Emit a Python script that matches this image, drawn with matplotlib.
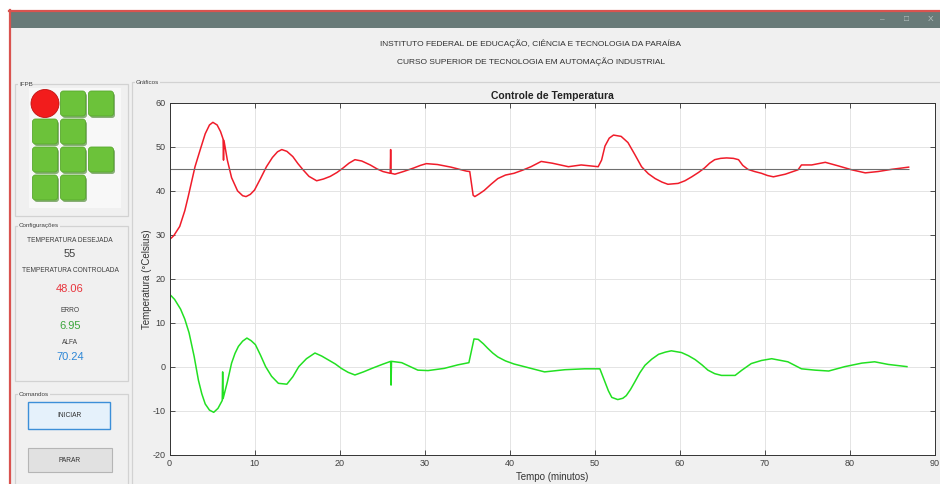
import numpy as np
import matplotlib.pyplot as plt
from matplotlib.patches import Rectangle, FancyBboxPatch, Circle

# Temperature (minutes, degrees C)
t_temp = [0.0, 0.5, 1.2, 1.8, 2.2, 3.0, 3.6, 4.2, 4.7, 5.1, 5.6, 6.0, 6.3, 6.35, 6.4, 6.8,
          7.3, 8.0, 8.6, 9.0, 9.5, 10.0, 10.7, 11.4, 12.1, 12.7, 13.2, 13.8, 14.5, 15.1,
          15.7, 16.4, 17.3, 18.1, 18.9, 19.7, 20.4, 21.1, 21.8, 22.6, 23.6, 24.4, 25.1,
          25.95, 26.0, 26.05, 26.5, 27.5, 28.7, 29.5, 30.2, 31.5, 33.1, 34.9, 35.3, 35.7,
          35.9, 36.4, 37.0, 37.8, 38.6, 39.5, 40.5, 41.5, 42.5, 43.7, 45.0, 46.9, 48.4,
          50.4, 50.8, 51.2, 51.7, 52.2, 53.1, 53.9, 54.7, 55.5, 56.3, 57.1, 57.9, 58.6,
          59.8, 60.6, 61.4, 62.2, 62.9, 63.5, 64.1, 64.8, 65.5, 66.3, 66.9, 67.4, 68.0,
          68.8, 69.6, 70.3, 71.0, 72.4, 73.9, 74.3, 75.5, 77.1, 78.6, 80.2, 81.8, 83.3,
          84.9, 86.9]
temperatura = [28.9, 29.8, 31.9, 35.5, 38.7, 45.5, 49.3, 53.0, 55.0, 55.6, 55.0, 53.5, 51.8,
               47.0, 51.5, 47.0, 43.0, 40.0, 38.9, 38.7, 39.2, 40.2, 42.8, 45.5, 47.6, 48.9,
               49.4, 49.0, 47.8, 46.2, 44.8, 43.3, 42.3, 42.7, 43.3, 44.2, 45.2, 46.3, 47.1,
               46.8, 45.9, 45.0, 44.4, 44.0, 49.4, 44.0, 43.8, 44.4, 45.2, 45.8, 46.2, 46.0,
               45.4, 44.5, 44.4, 39.0, 38.7, 39.3, 40.1, 41.5, 42.8, 43.6, 44.0, 44.7, 45.5,
               46.7, 46.3, 45.5, 45.9, 45.5, 47.0, 50.2, 52.0, 52.7, 52.4, 51.0, 48.3, 45.5,
               43.9, 42.8, 42.0, 41.5, 41.7, 42.3, 43.2, 44.2, 45.2, 46.3, 47.1, 47.4, 47.5,
               47.4, 47.1, 45.8, 44.9, 44.4, 44.0, 43.5, 43.2, 43.8, 44.8, 45.9, 45.9, 46.5,
               45.7, 44.8, 44.1, 44.4, 44.9, 45.4]

# Error
t_erro = [0.0, 0.6, 1.3, 1.8, 2.3, 2.9, 3.4, 3.8, 4.2, 4.7, 5.2, 5.7, 6.2, 6.25, 6.3, 6.8,
          7.3, 7.7, 8.1, 8.6, 9.1, 9.6, 10.1, 10.7, 11.3, 12.0, 12.8, 13.8, 14.5, 15.2,
          16.1, 17.1, 17.9, 18.7, 19.5, 20.2, 21.0, 21.8, 22.8, 23.8, 25.0, 26.0, 26.05,
          26.1, 27.3, 28.3, 29.2, 30.4, 32.3, 33.9, 35.2, 35.8, 36.3, 36.9, 37.4, 38.0,
          38.6, 39.5, 40.5, 42.5, 44.1, 46.5, 48.8, 50.6, 51.2, 51.6, 52.0, 52.7, 53.3,
          53.7, 54.2, 54.7, 55.3, 55.9, 56.7, 57.5, 58.3, 59.0, 60.2, 61.0, 61.8, 62.6,
          63.3, 64.1, 64.9, 66.5, 67.3, 68.4, 69.6, 70.8, 72.7, 74.3, 75.9, 77.5, 79.4,
          81.4, 82.9, 84.5, 86.7]
erro = [16.5, 15.3, 13.1, 10.8, 7.7, 2.3, -3.1, -6.2, -8.5, -9.9, -10.4, -9.5, -7.7, -1.2,
        -7.3, -3.5, 0.8, 3.0, 4.6, 5.8, 6.5, 5.9, 5.0, 2.6, 0.0, -2.2, -3.8, -4.0, -2.3, 0.0,
        1.8, 3.1, 2.4, 1.5, 0.6, -0.4, -1.3, -1.9, -1.2, -0.4, 0.5, 1.2, -4.2, 1.2, 0.9, 0.0,
        -0.8, -0.9, -0.4, 0.4, 0.9, 6.3, 6.2, 5.2, 4.2, 3.1, 2.2, 1.3, 0.6, -0.4, -1.2, -0.7,
        -0.5, -0.5, -3.5, -5.5, -7.0, -7.5, -7.2, -6.6, -5.2, -3.5, -1.4, 0.3, 1.7, 2.8, 3.3,
        3.6, 3.2, 2.5, 1.6, 0.4, -0.8, -1.6, -2.0, -2.0, -0.8, 0.7, 1.4, 1.8, 1.1, -0.5,
        -0.8, -1.0, 0.0, 0.8, 1.1, 0.5, 0.0]

setpoint = 45
x_ticks = np.arange(0, 91, 10)
y_ticks = np.arange(-20, 61, 10)

header = ["INSTITUTO FEDERAL DE EDUCAÇÃO, CIÊNCIA E TECNOLOGIA DA PARAÍBA",
          "CURSO SUPERIOR DE TECNOLOGIA EM AUTOMAÇÃO INDUSTRIAL"]
config_labels = ["TEMPERATURA DESEJADA", "TEMPERATURA CONTROLADA", "ERRO", "ALFA"]
config_values = ["55", "48.06", "6.95", "70.24"]
config_colors = ["#404040", "#e8343c", "#3aa53a", "#2b86d6"]

gui_font = ["Liberation Sans Narrow", "Liberation Sans", "DejaVu Sans"]
plt.rcParams["font.family"] = ["Liberation Sans", "DejaVu Sans"]
plt.rcParams["axes.unicode_minus"] = False

fig = plt.figure(figsize=(9.4, 4.84), dpi=100, facecolor="white")

# window drawn in pixel coordinates
bg = fig.add_axes([0, 0, 1, 1])
bg.set_xlim(0, 940)
bg.set_ylim(484, 0)
bg.axis("off")

bg.add_patch(Rectangle((9, 10), 931, 474, facecolor="#f0f0f0", edgecolor="none"))
bg.add_patch(Rectangle((10, 11), 930, 17, facecolor="#687a78", edgecolor="none"))
bg.plot([9.5, 9.5], [10, 484], color="#d9534f", lw=1.6)
bg.plot([9, 940], [10.5, 10.5], color="#d9534f", lw=1.6)
for x, s in zip([882, 906, 931], ["–", "□", "X"]):
    bg.text(x, 19.5, s, color="#b9c4c3", fontsize=6, ha="center", va="center")

for i, line in enumerate(header):
    bg.text(531, 44 + 18 * i, line, family=gui_font, fontsize=6, color="#303030",
            ha="center", va="center")

def panel(x0, y0, x1, y1, label):
    bg.add_patch(Rectangle((x0, y0), x1 - x0, y1 - y0, facecolor="none",
                           edgecolor="#d2d2d2", lw=0.9))
    bg.text(x0 + 4, y0, label, family=gui_font, fontsize=4.5, color="#404040",
            ha="left", va="center",
            bbox=dict(facecolor="#f0f0f0", edgecolor="none", pad=0.5))

panel(15, 84, 128, 216, "IFPB")
panel(15, 226, 128, 381, "Configurações")
panel(15, 394, 128, 490, "Comandos")
panel(132, 82, 945, 490, "Gráficos")

# IF logo
bg.add_patch(Rectangle((29, 88), 92, 120, facecolor="#f8f8f8", edgecolor="none"))
cells = [(1, 0), (2, 0), (0, 1), (1, 1), (0, 2), (1, 2), (2, 2), (0, 3), (1, 3)]
for c, r in cells:
    cx, cy = 45 + 28 * c, 103.5 + 28 * r
    bg.add_patch(FancyBboxPatch((cx - 11 + 1.5, cy - 11 + 2), 22, 22,
                                boxstyle="round,pad=1.5,rounding_size=3",
                                facecolor="#3f7f22", edgecolor="none", alpha=0.6))
    bg.add_patch(FancyBboxPatch((cx - 11, cy - 11), 22, 22,
                                boxstyle="round,pad=1.5,rounding_size=3",
                                facecolor="#6cc23a", edgecolor="#58a82e", lw=0.6))
bg.add_patch(Circle((45, 103.5), 14, facecolor="#f21c1c", edgecolor="#c01010", lw=0.6))

# configuration values
label_y = [240, 271, 310, 343]
value_y = [254, 289, 326, 357]
for lab, val, col, ly, vy in zip(config_labels, config_values, config_colors, label_y, value_y):
    bg.text(70, ly, lab, family=gui_font, fontsize=4.8, color="#404040",
            ha="center", va="center")
    bg.text(70, vy, val, family=gui_font, fontsize=8, color=col,
            ha="center", va="center")

# buttons
bg.add_patch(Rectangle((28, 402), 82, 27, facecolor="#e5f1fb", edgecolor="#3c8fd8", lw=1.0))
bg.text(69, 415.5, "INICIAR", family=gui_font, fontsize=4.8, color="#303030",
        ha="center", va="center")
bg.add_patch(Rectangle((28, 448), 84, 24, facecolor="#e1e1e1", edgecolor="#b5b5b5", lw=0.8))
bg.text(70, 460, "PARAR", family=gui_font, fontsize=4.8, color="#303030",
        ha="center", va="center")

# plot
ax = fig.add_axes([169.5 / 940, 1 - 454.5 / 484, 765.5 / 940, 351.5 / 484])
ax.set_facecolor("white")
ax.plot(t_temp, temperatura, color="#f01c2a", lw=1.1)
ax.plot(t_erro, erro, color="#22e022", lw=1.1)
ax.hlines(setpoint, t_temp[0], t_temp[-1], color="#6e6e6e", lw=0.8)

ax.set_xlim(0, 90)
ax.set_ylim(-20, 60)
ax.set_xticks(x_ticks)
ax.set_yticks(y_ticks)
ax.grid(True, color="#e4e4e4", lw=0.7)
ax.set_axisbelow(True)
ax.tick_params(direction="in", length=3.5, width=0.6, top=True, right=True,
               labelsize=6.5, labelcolor="#404040", color="#333333", pad=3)
for sp in ax.spines.values():
    sp.set_color("#333333")
    sp.set_linewidth(0.7)

ax.set_title("Controle de Temperatura", fontsize=7.5, fontweight="bold",
             color="#222222", pad=3)
ax.set_ylabel("Temperatura (°Celsius)", fontsize=7, color="#333333")
ax.set_xlabel("Tempo (minutos)", fontsize=7, color="#333333")
ax.yaxis.set_label_coords(-0.0235, 0.5)
ax.xaxis.set_label_coords(0.5, -0.05)

plt.savefig("out.png", dpi=100, facecolor=fig.get_facecolor())
